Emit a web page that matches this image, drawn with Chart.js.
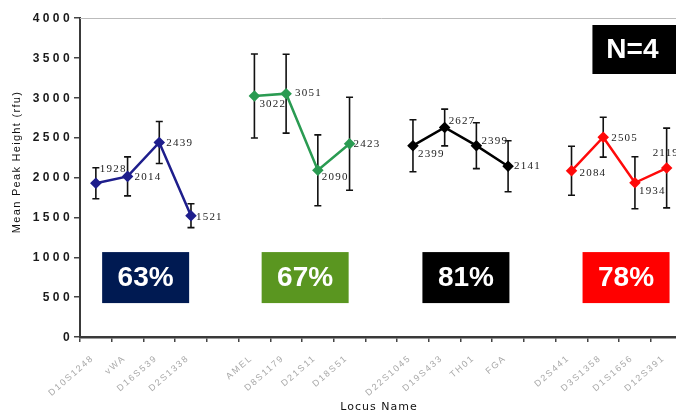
<!DOCTYPE html>
<html>
<head>
<meta charset="utf-8">
<script src="https://cdn.jsdelivr.net/npm/chart.js@4/dist/chart.umd.min.js"></script>
<style>
  html, body { margin: 0; padding: 0; background: #fff; overflow: hidden; }
  #wrap { width: 689px; height: 413px; }
</style>
</head>
<body>
<div id="wrap"><canvas id="c" width="689" height="413"></canvas></div>
<script>
// Loci along the x axis (blank slots separate the four dye groups)
const loci = ['D10S1248','vWA','D16S539','D2S1338','',
              'AMEL','D8S1179','D21S11','D18S51','',
              'D22S1045','D19S433','TH01','FGA','',
              'D2S441','D3S1358','D1S1656','D12S391'];

// Mean peak heights (rfu) and error half-widths per dye group
const blueMeans  = [1928, 2014, 2439, 1521];
const blueErr    = [195, 245, 263, 150];
const greenMeans = [3022, 3051, 2090, 2423];
const greenErr   = [527, 495, 445, 583];
const blackMeans = [2399, 2627, 2399, 2141];
const blackErr   = [326, 230, 288, 320];
const redMeans   = [2084, 2505, 1934, 2119];
const redErr     = [307, 250, 326, 500];

// Y axis tick labels
const yTicks = [0, 500, 1000, 1500, 2000, 2500, 3000, 3500, 4000];

// Percentage shown for each group and the sample count
const groupRates = ['63%', '67%', '81%', '78%'];
const sampleLabel = 'N=4';

// Axis titles
const xTitle = 'Locus Name';
const yTitle = 'Mean Peak Height (rfu)';

// First category index of each group
const groupStart = [0, 5, 10, 15];

const lineColors = ['#1e1e8c', '#2a9b52', '#000000', '#ff0a0a'];
const boxColors  = ['#001a52', '#5a9620', '#000000', '#ff0000'];

// Horizontal placement of the rate boxes, in category units
const boxCenters = [1.57, 6.6, 11.67, 16.72];

// Value-label placement relative to each marker (dx, dy in px)
const labelOffsets = [
  [[4,-14],[7,1],[7,1],[5,1]],
  [[5,8],[9,-1],[4,7],[4,0]],
  [[5,8],[4,-6],[5,-5],[6,0]],
  [[8,2],[8,1],[4,8],[-14,-15]]
];

const groups = [
  { means: blueMeans,  err: blueErr },
  { means: greenMeans, err: greenErr },
  { means: blackMeans, err: blackErr },
  { means: redMeans,   err: redErr }
];

function padded(values, start) {
  const arr = loci.map(() => null);
  values.forEach((v, i) => { arr[start + i] = v; });
  return arr;
}

const datasets = groups.map((g, k) => ({
  data: padded(g.means, groupStart[k]),
  errors: padded(g.err, groupStart[k]),
  borderColor: lineColors[k],
  backgroundColor: lineColors[k],
  borderWidth: 2.5,
  pointStyle: 'rectRot',
  pointRadius: 4,
  pointHoverRadius: 4,
  spanGaps: false,
  tension: 0
}));

function spacing(ctx, px) {
  if ('letterSpacing' in ctx) ctx.letterSpacing = px + 'px';
}

// Vertical error bars with caps, drawn beneath the lines
const errorBars = {
  id: 'errorBars',
  beforeDatasetsDraw(chart) {
    const ctx = chart.ctx, y = chart.scales.y;
    ctx.save();
    ctx.strokeStyle = '#111';
    ctx.lineWidth = 1.6;
    chart.data.datasets.forEach((ds, di) => {
      const meta = chart.getDatasetMeta(di);
      ds.data.forEach((v, i) => {
        if (v === null) return;
        const e = ds.errors[i];
        const px = meta.data[i].x;
        const top = y.getPixelForValue(v + e);
        const bot = y.getPixelForValue(v - e);
        ctx.beginPath();
        ctx.moveTo(px, top); ctx.lineTo(px, bot);
        ctx.moveTo(px - 3.5, top); ctx.lineTo(px + 3.5, top);
        ctx.moveTo(px - 3.5, bot); ctx.lineTo(px + 3.5, bot);
        ctx.stroke();
      });
    });
    ctx.restore();
  }
};

// Numeric labels beside each marker
const valueLabels = {
  id: 'valueLabels',
  afterDatasetsDraw(chart) {
    const ctx = chart.ctx;
    ctx.save();
    ctx.font = '11px "Liberation Serif", "Times New Roman", serif';
    spacing(ctx, 1.2);
    ctx.fillStyle = '#222';
    ctx.textAlign = 'left';
    ctx.textBaseline = 'middle';
    chart.data.datasets.forEach((ds, di) => {
      const meta = chart.getDatasetMeta(di);
      let n = 0;
      ds.data.forEach((v, i) => {
        if (v === null) return;
        const off = labelOffsets[di][n++];
        const p = meta.data[i];
        ctx.fillText(String(v), p.x + off[0], p.y + off[1]);
      });
    });
    ctx.restore();
  }
};

// Axis tick labels and titles, spaced out
const axisText = {
  id: 'axisText',
  afterDraw(chart) {
    const ctx = chart.ctx, x = chart.scales.x, y = chart.scales.y;
    const area = chart.chartArea;
    ctx.save();

    // y tick labels
    ctx.font = 'bold 12px "Liberation Sans", Arial, sans-serif';
    spacing(ctx, 3.4);
    ctx.fillStyle = '#1a1a1a';
    ctx.textAlign = 'right';
    ctx.textBaseline = 'middle';
    yTicks.forEach(v => {
      ctx.fillText(String(v), 73, y.getPixelForValue(v) + 0.5);
    });

    // x tick labels, rotated
    ctx.font = '9px "Liberation Sans", Arial, sans-serif';
    spacing(ctx, 1.8);
    ctx.fillStyle = '#a8a8a8';
    ctx.textAlign = 'right';
    ctx.textBaseline = 'middle';
    loci.forEach((name, i) => {
      if (!name) return;
      const cx = x.getPixelForValue(i);
      ctx.save();
      ctx.translate(cx - 3, area.bottom + 20);
      ctx.rotate(-41 * Math.PI / 180);
      ctx.fillText(name, 0, 0);
      ctx.restore();
    });

    // x title
    ctx.font = '11px "DejaVu Sans", sans-serif';
    spacing(ctx, 1);
    ctx.fillStyle = '#111';
    ctx.textAlign = 'center';
    ctx.textBaseline = 'middle';
    ctx.fillText(xTitle, 379, 407);

    // y title
    ctx.font = '11px "Liberation Sans", Arial, sans-serif';
    spacing(ctx, 1.3);
    ctx.save();
    ctx.translate(17, 162);
    ctx.rotate(-Math.PI / 2);
    ctx.fillText(yTitle, 0, 0);
    ctx.restore();

    ctx.restore();
  }
};

// Coloured percentage boxes under each group, the N box and the frame top line
const panels = {
  id: 'panels',
  afterDraw(chart) {
    const ctx = chart.ctx, x = chart.scales.x, y = chart.scales.y;
    const area = chart.chartArea;
    ctx.save();
    ctx.strokeStyle = '#bbb';
    ctx.lineWidth = 1;
    ctx.beginPath();
    ctx.moveTo(area.left, area.top + 0.5);
    ctx.lineTo(area.right, area.top + 0.5);
    ctx.stroke();

    const w = 87, h = 51;
    ctx.textAlign = 'center';
    ctx.textBaseline = 'middle';
    groupRates.forEach((txt, k) => {
      const cx = x.getPixelForValue(boxCenters[k]);
      const cy = y.getPixelForValue(745);
      ctx.fillStyle = boxColors[k];
      ctx.fillRect(cx - w / 2, cy - h / 2, w, h);
      ctx.fillStyle = '#fff';
      ctx.font = 'bold 28px "Liberation Sans", Arial, sans-serif';
      ctx.fillText(txt, cx, cy + 1);
    });

    const nx = x.getPixelForValue(17);
    const ny = y.getPixelForValue(3605);
    ctx.fillStyle = '#000';
    ctx.fillRect(nx - 42.5, ny - 24.5, 87, 49);
    ctx.fillStyle = '#fff';
    ctx.font = 'bold 28px "Liberation Sans", Arial, sans-serif';
    ctx.fillText(sampleLabel, nx - 2.5, ny + 1);
    ctx.restore();
  }
};

new Chart(document.getElementById('c'), {
  type: 'line',
  data: { labels: loci, datasets },
  options: {
    responsive: false,
    animation: false,
    events: [],
    layout: { padding: { top: 18, right: 2, left: 0, bottom: 0 } },
    plugins: { legend: { display: false }, tooltip: { enabled: false } },
    scales: {
      x: {
        offset: true,
        grid: {
          offset: true,
          drawOnChartArea: false,
          drawTicks: true,
          tickLength: 5,
          color: '#444',
          lineWidth: 1.5
        },
        border: { color: '#3a3a3a', width: 2.5 },
        ticks: { display: false, autoSkip: false },
        afterFit(scale) {
          scale.height = 76;
          scale.paddingLeft = 0;
          scale.paddingRight = 0;
        }
      },
      y: {
        min: 0,
        max: 4000,
        ticks: { display: false, stepSize: 500 },
        grid: {
          drawOnChartArea: false,
          drawTicks: true,
          tickLength: 6,
          color: '#444',
          lineWidth: 1.5
        },
        border: { color: '#3a3a3a', width: 2 },
        afterFit(scale) {
          scale.width = 80;
          scale.paddingTop = 0;
          scale.paddingBottom = 0;
        }
      }
    }
  },
  plugins: [errorBars, valueLabels, axisText, panels]
});
</script>
</body>
</html>
